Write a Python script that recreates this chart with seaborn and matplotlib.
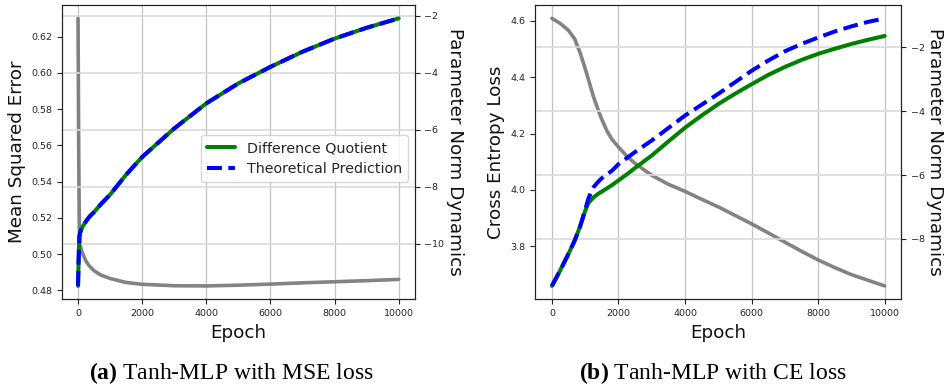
import matplotlib
matplotlib.use("Agg")
import matplotlib.pyplot as plt
import numpy as np
import pandas as pd
import seaborn as sns

# ---- data ----
# (a) Tanh-MLP, MSE loss
epochs_a = [0, 20, 40, 60, 100, 150, 250, 350, 500, 700, 1000, 1500, 2000, 3000,
            4000, 5000, 6000, 7000, 8000, 9000, 10000]
mse_loss = [0.630, 0.560, 0.515, 0.5055, 0.5025, 0.5000, 0.4960, 0.4935, 0.4908,
            0.4885, 0.4865, 0.4843, 0.4833, 0.4825, 0.4824, 0.4828, 0.4834, 0.4841,
            0.4847, 0.4853, 0.4860]
mse_quotient = [-11.47, -10.5, -9.75, -9.62, -9.49, -9.38, -9.2, -9.05, -8.88,
                -8.62, -8.27, -7.57, -6.95, -5.95, -5.07, -4.37, -3.79, -3.26,
                -2.80, -2.42, -2.09]
mse_theory = list(mse_quotient)

# (b) Tanh-MLP, CE loss
epochs_b = [0, 250, 500, 684, 750, 850, 1000, 1100, 1250, 1400, 1500, 1650, 1800,
            2000, 2250, 2500, 3000, 3500, 4000, 4500, 5000, 5500, 6000, 6500, 7000,
            7500, 8000, 8500, 9000, 9500, 10000]
ce_loss = [4.608, 4.590, 4.565, 4.535, 4.515, 4.485, 4.430, 4.390, 4.330, 4.280,
           4.250, 4.210, 4.180, 4.152, 4.120, 4.094, 4.052, 4.020, 3.995, 3.967,
           3.940, 3.910, 3.880, 3.848, 3.815, 3.783, 3.752, 3.725, 3.700, 3.680,
           3.660]
ce_quotient = [-9.47, -8.98, -8.46, -8.05, -7.87, -7.60, -7.12, -6.87, -6.70, -6.58,
               -6.52, -6.42, -6.32, -6.17, -5.98, -5.78, -5.39, -4.95, -4.52, -4.14,
               -3.78, -3.46, -3.16, -2.87, -2.62, -2.40, -2.21, -2.05, -1.90, -1.77,
               -1.65]
ce_theory = [-9.47, -8.98, -8.46, -8.05, -7.87, -7.60, -7.08, -6.72, -6.38, -6.20,
             -6.10, -5.98, -5.87, -5.66, -5.47, -5.28, -4.92, -4.53, -4.14, -3.80,
             -3.46, -3.10, -2.74, -2.42, -2.13, -1.90, -1.70, -1.51, -1.35, -1.21,
             -1.10]

# ---- style ----
sns.set_style("ticks")
plt.rcParams['font.family'] = ['DejaVu Sans']
plt.rcParams['mathtext.fontset'] = 'custom'
plt.rcParams['mathtext.rm'] = 'Liberation Serif'
plt.rcParams['mathtext.bf'] = 'Liberation Serif:bold'
plt.rcParams['axes.edgecolor'] = '#222222'
plt.rcParams['axes.labelcolor'] = '#111111'
plt.rcParams['xtick.color'] = '#222222'
plt.rcParams['ytick.color'] = '#222222'
plt.rcParams['xtick.labelsize'] = 6.8
plt.rcParams['ytick.labelsize'] = 6.8

LABEL_FS = 13.2
GRAY = '#7c7c7c'

fig = plt.figure(figsize=(9.45, 3.92), dpi=100)
ax_a = fig.add_axes([62 / 945, 1 - 299.3 / 392, (414.7 - 62) / 945, 294.3 / 392])
ax_b = fig.add_axes([535.3 / 945, 1 - 299.3 / 392, (901.3 - 535.3) / 945, 294.3 / 392])


def draw_panel(ax, epochs, loss, quotient, theory, loss_label, legend):
    df = pd.DataFrame({'epoch': epochs, 'loss': loss,
                       'quotient': quotient, 'theory': theory})
    ax.grid(axis='x', color='#c4c4c4', lw=0.9)
    ax.set_axisbelow(True)
    sns.lineplot(data=df, x='epoch', y='loss', ax=ax, color=GRAY, lw=2.6,
                 alpha=0.95, legend=False)
    ax2 = ax.twinx()
    ax2.grid(axis='y', color='#dadada', lw=1.2)
    ax2.set_axisbelow(True)
    sns.lineplot(data=df, x='epoch', y='quotient', ax=ax2, color='green', lw=2.9,
                 label='Difference Quotient')
    sns.lineplot(data=df, x='epoch', y='theory', ax=ax2, color='blue', lw=2.9,
                 linestyle='--', label='Theoretical Prediction')
    ax.set_xlabel('Epoch', fontsize=LABEL_FS)
    ax.set_ylabel(loss_label, fontsize=LABEL_FS)
    ax2.set_ylabel('Parameter Norm Dynamics', fontsize=LABEL_FS, rotation=270,
                   labelpad=14)
    ax.set_xticks([0, 2000, 4000, 6000, 8000, 10000])
    if legend:
        ax2.legend(loc='center right', bbox_to_anchor=(1.0, 0.478), fontsize=10.3,
                   framealpha=0.8, edgecolor='#cccccc')
    else:
        ax2.get_legend().remove()
    return ax2


ax_a2 = draw_panel(ax_a, epochs_a, mse_loss, mse_quotient, mse_theory,
                   'Mean Squared Error', True)
ax_a.set_yticks([0.48, 0.50, 0.52, 0.54, 0.56, 0.58, 0.60, 0.62])
ax_a2.set_yticks([-10, -8, -6, -4, -2])

ax_b2 = draw_panel(ax_b, epochs_b, ce_loss, ce_quotient, ce_theory,
                   'Cross Entropy Loss', False)
ax_b.set_yticks([3.8, 4.0, 4.2, 4.4, 4.6])
ax_b2.set_yticks([-8, -6, -4, -2])

fig.text(231.5 / 945, 1 - 379 / 392, r'$\mathbf{(a)}$ Tanh-MLP with MSE loss',
         ha='center', va='baseline', fontsize=17, family='Liberation Serif',
         color='black')
fig.text(712.5 / 945, 1 - 379 / 392, r'$\mathbf{(b)}$ Tanh-MLP with CE loss',
         ha='center', va='baseline', fontsize=17, family='Liberation Serif',
         color='black')

fig.savefig('out.png', dpi=100)
